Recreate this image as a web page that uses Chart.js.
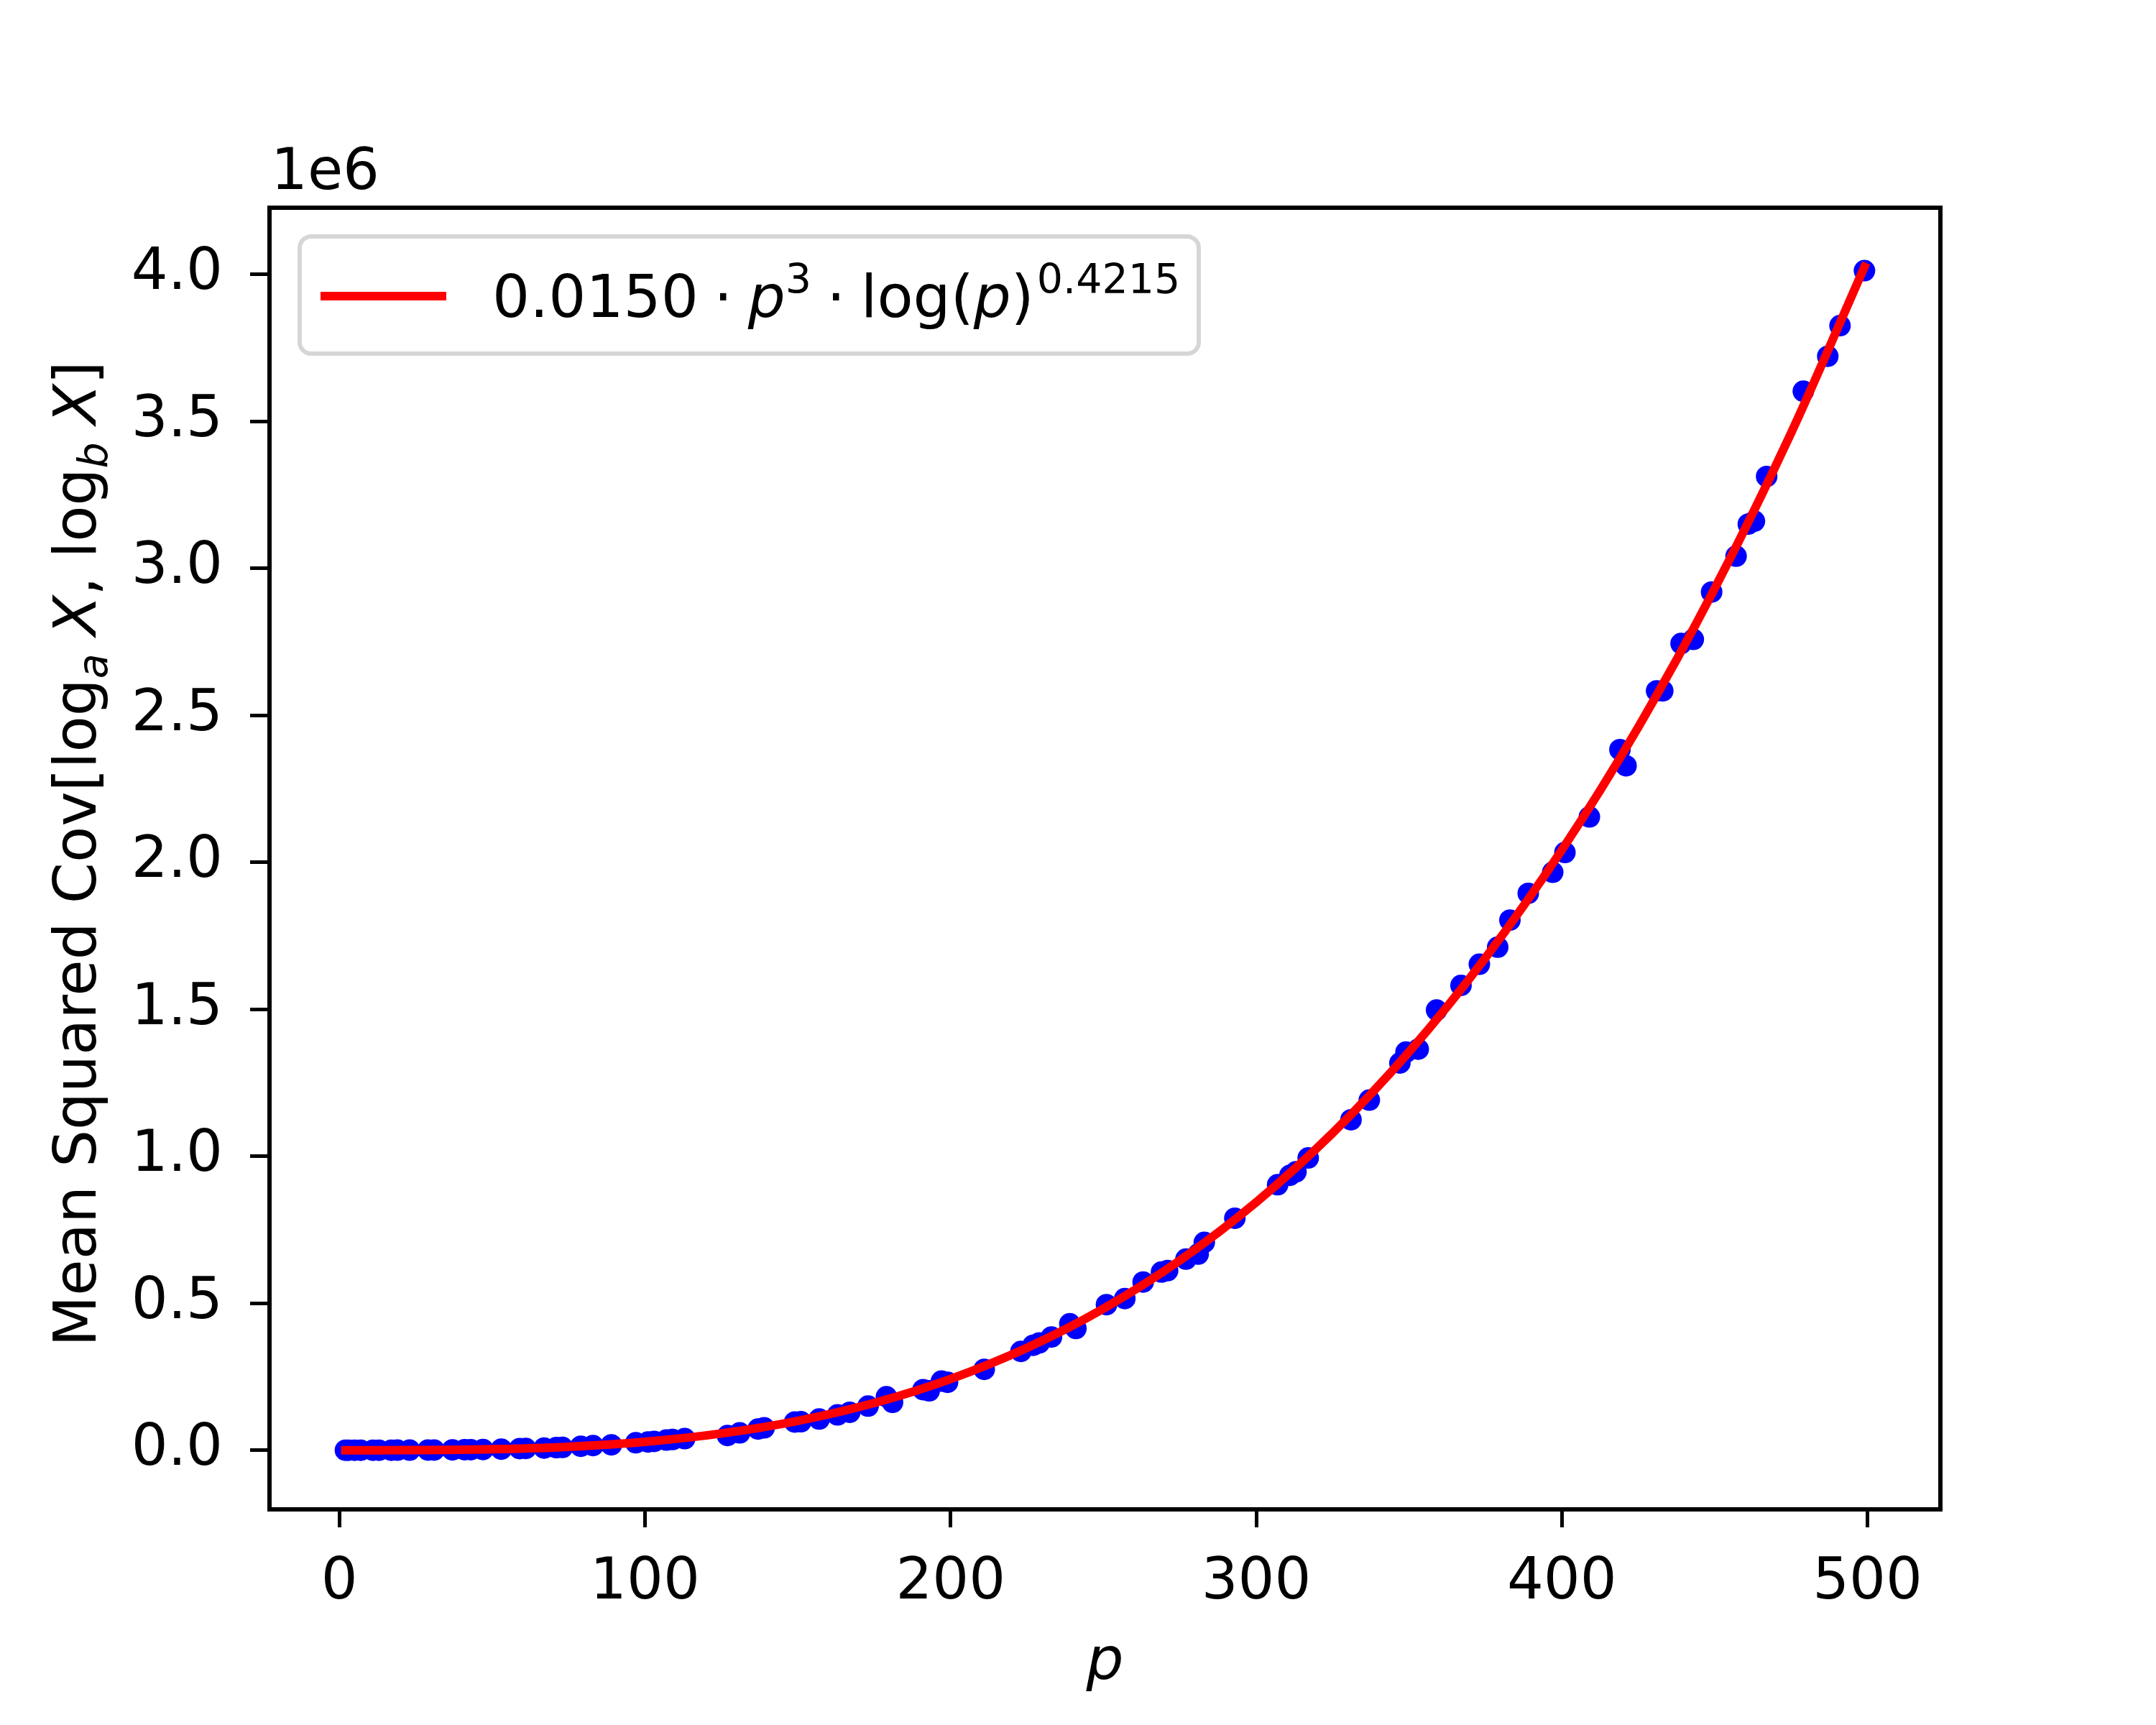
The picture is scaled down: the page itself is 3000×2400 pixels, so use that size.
<!DOCTYPE html>
<html>
<head>
<meta charset="utf-8">
<script src="https://cdn.jsdelivr.net/npm/chart.js@4.4.0/dist/chart.umd.min.js"></script>
<style>
html,body{margin:0;padding:0;background:#ffffff;}
canvas{display:block;}
</style>
</head>
<body>
<canvas id="c" width="3000" height="2400" style="width:3000px;height:2400px"></canvas>
<script>
// ---------------- data ----------------
const primes = [2,3,5,7,11,13,17,19,23,29,31,37,41,43,47,53,59,61,67,71,73,79,83,89,97,
  101,103,107,109,113,127,131,137,139,149,151,157,163,167,173,179,181,191,193,197,199,
  211,223,227,229,233,239,241,251,257,263,269,271,277,281,283,293,307,311,313,317,331,337,
  347,349,353,359,367,373,379,383,389,397,401,409,419,421,431,433,439,443,449,457,461,463,
  467,479,487,491,499];
// mean squared covariance, in units of 1e6
const msCov = [0.0000,0.0000,0.0000,0.0000,0.0000,0.0001,0.0001,0.0002,0.0003,0.0006,
  0.0007,0.0012,0.0017,0.0019,0.0026,0.0037,0.0055,0.0060,0.0075,0.0088,
  0.0095,0.0135,0.0158,0.0185,0.0255,
  0.0280,0.0300,0.0345,0.0365,0.0395,0.0500,0.0590,0.0720,0.0760,0.0960,0.0970,0.1060,
  0.1200,0.1290,0.1500,0.1820,0.1630,0.2060,0.2020,0.2350,0.2310,
  0.2750,0.3360,0.3570,0.3650,0.3850,0.4300,0.4140,0.4950,0.5160,0.5720,0.6060,0.6110,
  0.6500,0.6670,0.7070,0.7890,0.9030,0.9350,0.9470,0.9940,1.1240,1.1910,
  1.3170,1.3540,1.3640,1.4970,1.5810,1.6530,1.7110,1.8030,1.8940,1.9660,2.0330,2.1540,
  2.3830,2.3280,2.5830,2.5830,2.7440,2.7580,2.9190,3.0410,3.1500,3.1600,
  3.3120,3.6020,3.7210,3.8250,4.0120];
// fitted curve 0.0150 p^3 log(p)^0.4215, in units of 1e6
const fitP = [2,10,25,50,75,100,125,150,175,200,225,250,275,300,325,350,375,400,425,450,475,499];
const fitVal = [0.0000001,0.0000213,0.000384,0.003332,0.011723,0.028554,0.056892,0.099858,
  0.160613,0.242328,0.348263,0.481617,0.645649,0.843696,1.078916,1.354871,1.674738,
  2.041728,2.459456,2.930990,3.459829,4.024994];
const xTicks = [0,100,200,300,400,500];
const yTicks = [0,0.5,1.0,1.5,2.0,2.5,3.0,3.5,4.0];

// ---------------- drawing ----------------
const FS = 80;     // tick labels
const FT = 82;     // titles and legend
const FAM = '"DejaVu Sans"';

function drawRuns(ctx, runs, x, y) {
  let cx = x;
  for (const r of runs) {
    if (r.gap) { cx += r.gap; continue; }
    ctx.font = r.f;
    ctx.fillText(r.t, cx, y + (r.dy || 0));
    cx += ctx.measureText(r.t).width;
  }
  return cx;
}
function measureRuns(ctx, runs) {
  let w = 0;
  for (const r of runs) {
    if (r.gap) { w += r.gap; continue; }
    ctx.font = r.f;
    w += ctx.measureText(r.t).width;
  }
  return w;
}

const decorPlugin = {
  id: 'decor',
  afterDraw(chart) {
    const ctx = chart.ctx;
    const a = chart.chartArea;
    ctx.save();
    // frame
    ctx.strokeStyle = '#000';
    ctx.lineWidth = 6;
    ctx.strokeRect(a.left, a.top, a.right - a.left, a.bottom - a.top);

    const reg = `${FT}px ${FAM}`;
    const ita = `italic ${FT}px ${FAM}`;
    const subIt = `italic ${Math.round(FT*0.7)}px ${FAM}`;
    const sup = `${Math.round(FT*0.7)}px ${FAM}`;

    ctx.fillStyle = '#000';
    ctx.textBaseline = 'alphabetic';
    ctx.textAlign = 'left';
    // offset text
    ctx.font = `${FS}px ${FAM}`;
    ctx.fillText('1e6', a.left + 2, a.top - 26);

    // y axis title
    const yRuns = [
      {t:'Mean Squared Cov[log', f:reg},
      {t:'a', f:subIt, dy: 0.2*FT},
      {gap: 0.3*FT},
      {t:'X', f:ita},
      {t:', log', f:reg},
      {t:'b', f:subIt, dy: 0.2*FT},
      {gap: 0.3*FT},
      {t:'X', f:ita},
      {t:']', f:reg}
    ];
    const yw = measureRuns(ctx, yRuns);
    ctx.save();
    ctx.translate(133, 1188);
    ctx.rotate(-Math.PI / 2);
    drawRuns(ctx, yRuns, -yw / 2, 0);
    ctx.restore();

    // legend
    const lx = 417, ly = 329, lw = 1251, lh = 163, rr = 16;
    ctx.beginPath();
    ctx.roundRect(lx, ly, lw, lh, rr);
    ctx.fillStyle = 'rgba(255,255,255,0.8)';
    ctx.fill();
    ctx.lineWidth = 6;
    ctx.strokeStyle = '#d6d6d6';
    ctx.stroke();
    const ds = chart.data.datasets[0];
    ctx.beginPath();
    ctx.moveTo(446, 412);
    ctx.lineTo(621, 412);
    ctx.strokeStyle = ds.borderColor;
    ctx.lineWidth = ds.borderWidth;
    ctx.lineCap = 'butt';
    ctx.stroke();
    ctx.fillStyle = '#000';
    const gapOp = 0.26*FT;
    const lRuns = [
      {t:'0.0150', f:reg},
      {gap: gapOp},
      {t:'\u00B7', f:reg},
      {gap: gapOp},
      {t:'p', f:ita},
      {t:'3', f:sup, dy: -0.4*FT},
      {gap: gapOp},
      {t:'\u00B7', f:reg},
      {gap: gapOp},
      {t:'log(', f:reg},
      {t:'p', f:ita},
      {t:')', f:reg},
      {gap: 0.05*FT},
      {t:'0.4215', f:sup, dy: -0.4*FT}
    ];
    drawRuns(ctx, lRuns, 685, 441);
    ctx.restore();
  }
};

const ctx = document.getElementById('c').getContext('2d');
new Chart(ctx, {
  type: 'scatter',
  data: {
    datasets: [
      {
        type: 'line',
        label: 'fit',
        data: fitP.map((p, i) => ({x: p, y: fitVal[i]})),
        borderColor: '#ff0000',
        backgroundColor: '#ff0000',
        borderWidth: 12,
        pointRadius: 0,
        cubicInterpolationMode: 'monotone',
        borderCapStyle: 'square',
        fill: false,
        order: 0
      },
      {
        type: 'scatter',
        label: 'data',
        data: primes.map((p, i) => ({x: p, y: msCov[i]})),
        backgroundColor: '#0000ff',
        borderColor: '#0000ff',
        borderWidth: 0,
        pointRadius: 15,
        order: 1
      }
    ]
  },
  options: {
    responsive: false,
    animation: false,
    devicePixelRatio: 1,
    layout: {padding: {left: 0, top: 289, right: 300, bottom: 0}},
    plugins: {legend: {display: false}, tooltip: {enabled: false}},
    scales: {
      x: {
        type: 'linear', position: 'bottom', min: -22.85, max: 523.85,
        afterBuildTicks: s => { s.ticks = xTicks.map(v => ({value: v})); },
        afterFit: s => { s.height = 300; },
        ticks: {font: {family: 'DejaVu Sans', size: FS}, color: '#000', padding: 30,
                maxRotation: 0, autoSkip: false, callback: v => String(v)},
        grid: {drawOnChartArea: false, drawTicks: true, tickLength: 25, tickWidth: 5, tickColor: '#000'},
        border: {display: true, color: '#000', width: 6},
        title: {display: true, text: 'p', color: '#000',
                font: {family: 'DejaVu Sans', size: FT, style: 'italic'},
                padding: {top: 0, bottom: 36}}
      },
      y: {
        type: 'linear', position: 'left', min: -0.2012, max: 4.2262,
        afterBuildTicks: s => { s.ticks = yTicks.map(v => ({value: v})); },
        afterFit: s => { s.width = 375; },
        ticks: {font: {family: 'DejaVu Sans', size: FS}, color: '#000', padding: 38,
                autoSkip: false, callback: v => Number(v).toFixed(1)},
        grid: {drawOnChartArea: false, drawTicks: true, tickLength: 27, tickWidth: 5, tickColor: '#000'},
        border: {display: true, color: '#000', width: 6}
      }
    }
  },
  plugins: [decorPlugin]
});
</script>
</body>
</html>
